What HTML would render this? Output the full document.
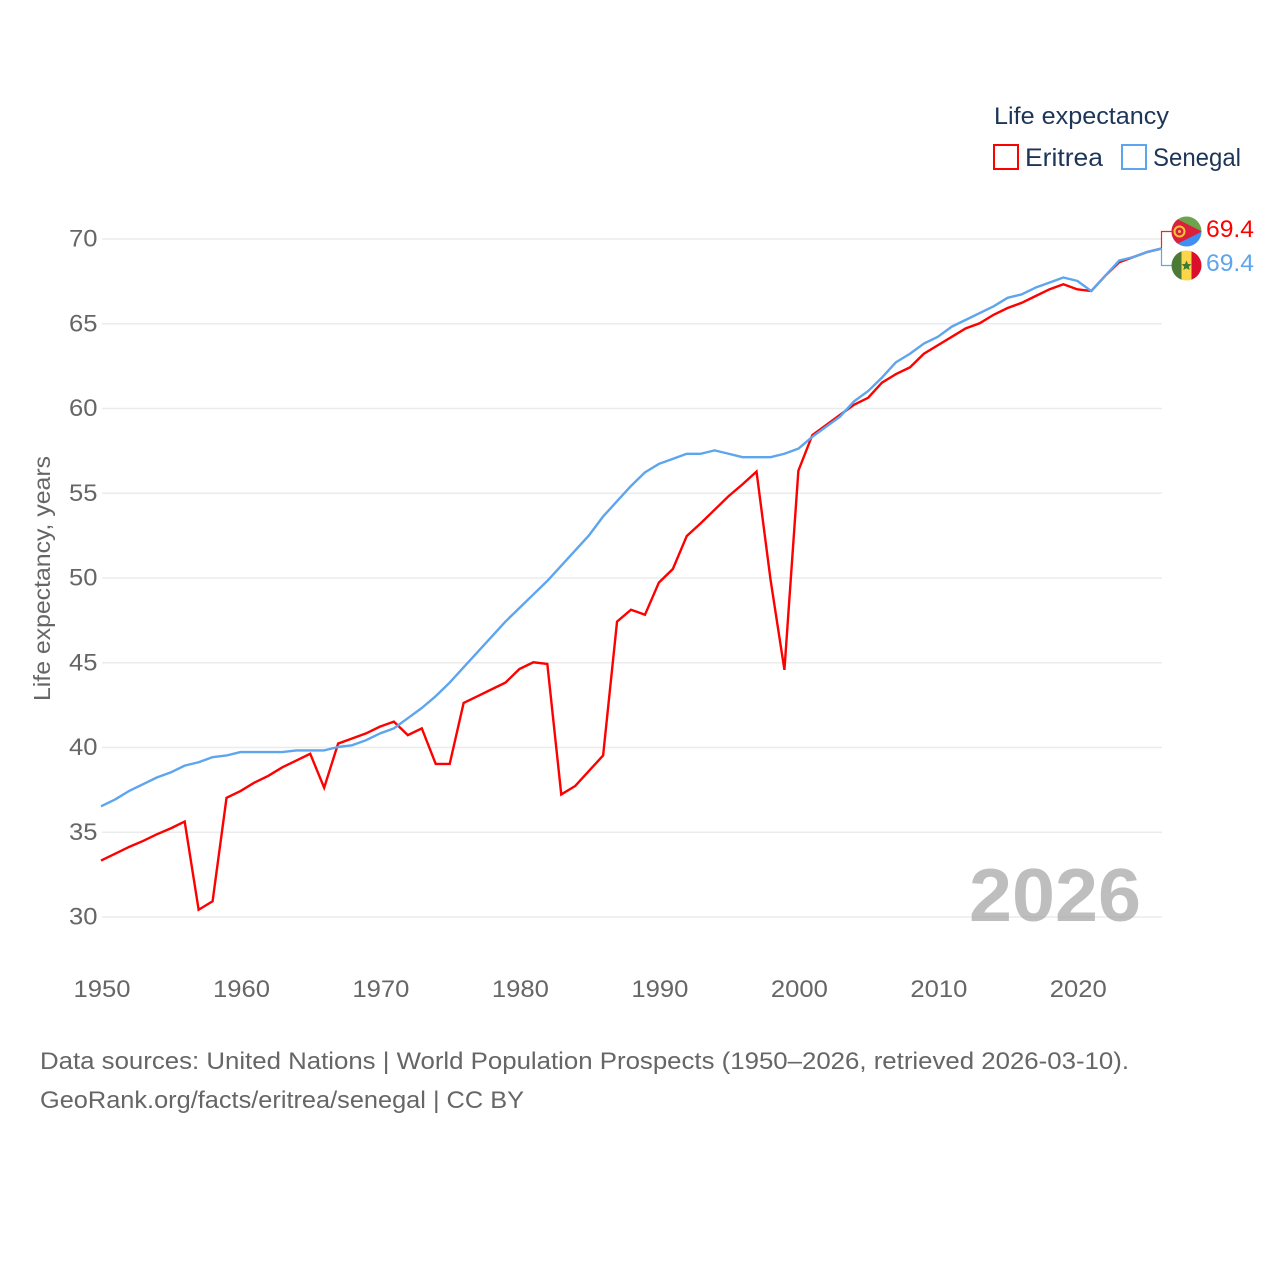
<!DOCTYPE html>
<html lang="en">
<head>
<meta charset="utf-8">
<title>Life expectancy: Eritrea vs Senegal</title>
<style>
html,body{margin:0;padding:0;background:#fff;}
svg{display:block;font-family:"Liberation Sans",sans-serif;}
</style>
</head>
<body>
<svg id="chart" width="1280" height="1280" viewBox="0 0 1280 1280" xmlns="http://www.w3.org/2000/svg">
  <defs>
    <clipPath id="clip-er"><circle cx="1186.5" cy="231.5" r="15"/></clipPath>
    <clipPath id="clip-sn"><circle cx="1186.5" cy="265.5" r="15"/></clipPath>
  </defs>
  <rect x="0" y="0" width="1280" height="1280" fill="#fff"/>
  <g id="grid"></g>
  <g id="yticks"></g>
  <g id="xticks"></g>
  <text transform="translate(50,701) rotate(-90)" font-size="23.5" fill="#666" textLength="245" lengthAdjust="spacingAndGlyphs">Life expectancy, years</text>
  <text x="969" y="921" font-size="75" font-weight="bold" fill="#a8a8a8" fill-opacity="0.75" textLength="172" lengthAdjust="spacingAndGlyphs">2026</text>
  <path id="line-eritrea" fill="none" stroke="#ff0000" stroke-width="2.4" stroke-linejoin="miter"/>
  <path id="line-senegal" fill="none" stroke="#5da5ee" stroke-width="2.4" stroke-linejoin="round"/>

  <g>
    <text x="994" y="124" font-size="24.5" fill="#1d3557" textLength="175" lengthAdjust="spacingAndGlyphs">Life expectancy</text>
    <g>
      <rect x="994" y="145" width="24" height="24" fill="none" stroke="#ff0000" stroke-width="2"/>
      <text x="1025" y="166" font-size="25" fill="#1d3557" textLength="78" lengthAdjust="spacingAndGlyphs">Eritrea</text>
    </g>
    <g>
      <rect x="1122" y="145" width="24" height="24" fill="none" stroke="#5da5ee" stroke-width="2"/>
      <text x="1153" y="166" font-size="25" fill="#1d3557" textLength="88" lengthAdjust="spacingAndGlyphs">Senegal</text>
    </g>
  </g>

  <path d="M1172 231.5H1161.5V248" fill="none" stroke="#ff2020" stroke-width="1.2"/>
  <path d="M1161.5 248V265.5H1172" fill="none" stroke="#5da5ee" stroke-width="1.2"/>

  <g clip-path="url(#clip-er)">
    <rect x="1171" y="216" width="31" height="16" fill="#6da34d"/>
    <rect x="1171" y="231" width="31" height="16" fill="#3f8ff0"/>
    <polygon points="1171,216 1202,231.5 1171,247" fill="#dc1f3c"/>
    <circle cx="1179.5" cy="231.5" r="5" fill="none" stroke="#f4c63f" stroke-width="2"/>
    <circle cx="1179.5" cy="231.5" r="1.5" fill="#f4c63f"/>
  </g>
  <g clip-path="url(#clip-sn)">
    <rect x="1171" y="250" width="11" height="31" fill="#4a7a35"/>
    <rect x="1181.5" y="250" width="10.5" height="31" fill="#fcd549"/>
    <rect x="1191.5" y="250" width="11" height="31" fill="#da0f2c"/>
    <polygon points="1186.5,260.5 1188,264 1191.5,264.3 1188.8,266.6 1189.7,270 1186.5,268.2 1183.3,270 1184.2,266.6 1181.5,264.3 1185,264" fill="#3f7a35"/>
  </g>
  <text x="1206" y="237" font-size="24" fill="#ff0000" textLength="48" lengthAdjust="spacingAndGlyphs">69.4</text>
  <text x="1206" y="271" font-size="24" fill="#5da5ee" textLength="48" lengthAdjust="spacingAndGlyphs">69.4</text>

  <g>
    <text x="40" y="1069" font-size="24" fill="#666" textLength="1089" lengthAdjust="spacingAndGlyphs">Data sources: United Nations | World Population Prospects (1950–2026, retrieved 2026-03-10).</text>
    <text x="40" y="1108" font-size="24" fill="#666" textLength="484" lengthAdjust="spacingAndGlyphs">GeoRank.org/facts/eritrea/senegal | CC BY</text>
  </g>
</svg>
<script>
const startYear = 1950;
const endYear = 2026;
const yTickValues = [30, 35, 40, 45, 50, 55, 60, 65, 70];
const xTickValues = [1950, 1960, 1970, 1980, 1990, 2000, 2010, 2020];
const eritrea = [
  33.3,33.7,34.1,34.45,34.85,35.2,35.6,30.4,30.9,37.0,
  37.4,37.9,38.3,38.8,39.2,39.6,37.6,40.2,40.5,40.8,
  41.2,41.5,40.7,41.1,39.0,39.0,42.6,43.0,43.4,43.8,
  44.6,45.0,44.9,37.2,37.7,38.6,39.5,47.4,48.1,47.8,
  49.7,50.5,52.45,53.2,54.0,54.8,55.5,56.25,49.9,44.55,
  56.3,58.4,59.0,59.6,60.2,60.6,61.5,62.0,62.4,63.2,
  63.7,64.2,64.7,65.0,65.5,65.9,66.2,66.6,67.0,67.3,
  67.0,66.9,67.8,68.6,68.9,69.2,69.4
];
const senegal = [
  36.5,36.9,37.4,37.8,38.2,38.5,38.9,39.1,39.4,39.5,
  39.7,39.7,39.7,39.7,39.8,39.8,39.8,40.0,40.1,40.4,
  40.8,41.1,41.7,42.3,43.0,43.8,44.7,45.6,46.5,47.4,
  48.2,49.0,49.8,50.7,51.6,52.5,53.6,54.5,55.4,56.2,
  56.7,57.0,57.3,57.3,57.5,57.3,57.1,57.1,57.1,57.3,
  57.6,58.3,58.9,59.5,60.4,61.0,61.8,62.7,63.2,63.8,
  64.2,64.8,65.2,65.6,66.0,66.5,66.7,67.1,67.4,67.7,
  67.5,66.9,67.8,68.7,68.9,69.2,69.4
];

const NS = 'http://www.w3.org/2000/svg';
const gridLeft = 102, gridRight = 1162, y30 = 917, y70 = 239;
const lineShiftX = -1, lineShiftY = -0.5;
function xScale(year) {
  return gridLeft + (year - startYear) * (gridRight - gridLeft) / (endYear - startYear);
}
function yScale(v) {
  return y30 + (v - 30) * (y70 - y30) / 40;
}
function linePath(series) {
  return series.map(function (v, i) {
    return (i ? 'L' : 'M') + (xScale(startYear + i) + lineShiftX).toFixed(2) + ' ' + (yScale(v) + lineShiftY).toFixed(2);
  }).join('');
}

const grid = document.getElementById('grid');
const yticks = document.getElementById('yticks');
const xticks = document.getElementById('xticks');

yTickValues.forEach(function (v) {
  const ln = document.createElementNS(NS, 'line');
  
  
  ln.setAttribute('x1', gridLeft);
  ln.setAttribute('x2', gridRight);
  ln.setAttribute('y1', yScale(v));
  ln.setAttribute('y2', yScale(v));
  ln.setAttribute('stroke', '#ebebeb');
  ln.setAttribute('stroke-width', '1.4');
  grid.appendChild(ln);

  const t = document.createElementNS(NS, 'text');
  
  
  t.setAttribute('x', 69);
  t.setAttribute('y', yScale(v) + 7.5);
  t.setAttribute('font-size', '24.5');
  t.setAttribute('fill', '#666');
  t.setAttribute('textLength', '28.5');
  t.setAttribute('lengthAdjust', 'spacingAndGlyphs');
  t.textContent = v;
  yticks.appendChild(t);
});

xTickValues.forEach(function (year) {
  const t = document.createElementNS(NS, 'text');
  
  
  t.setAttribute('x', xScale(year) - 28.5);
  t.setAttribute('y', 997);
  t.setAttribute('font-size', '24.5');
  t.setAttribute('fill', '#666');
  t.setAttribute('textLength', '57');
  t.setAttribute('lengthAdjust', 'spacingAndGlyphs');
  t.textContent = year;
  xticks.appendChild(t);
});

document.getElementById('line-eritrea').setAttribute('d', linePath(eritrea));
document.getElementById('line-senegal').setAttribute('d', linePath(senegal));
</script>
</body>
</html>
